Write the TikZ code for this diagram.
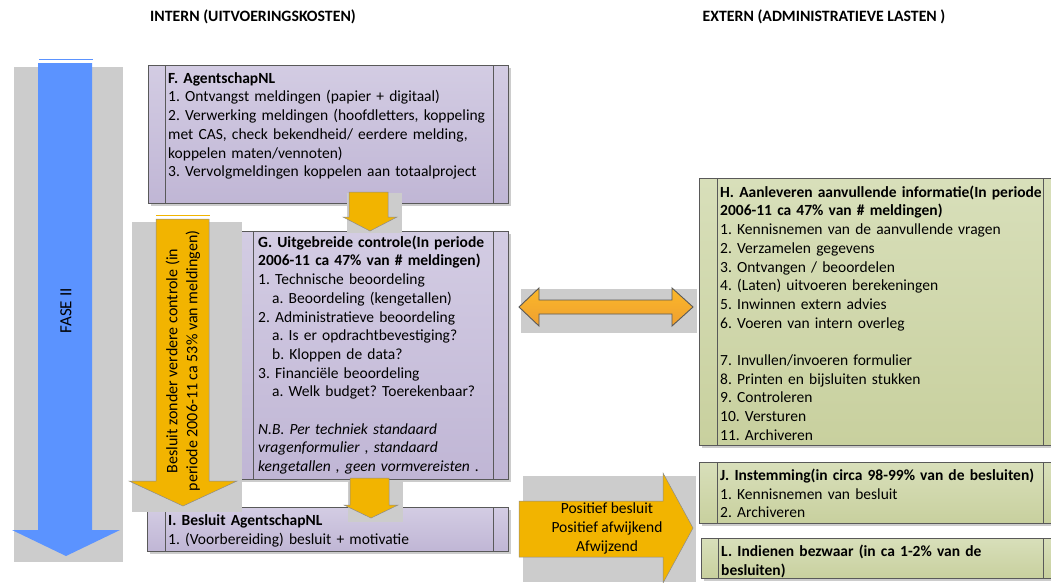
\documentclass[tikz,border=0pt]{standalone}
\usepackage{fontspec}
\setmainfont{Carlito}
\usetikzlibrary{positioning,shadows}
\definecolor{lavtop}{HTML}{D3CCE3}
\definecolor{lavbot}{HTML}{C0B6D5}
\definecolor{groentop}{HTML}{D8DFBA}
\definecolor{groenbot}{HTML}{C8D09E}
\definecolor{randgrijs}{HTML}{595959}
\definecolor{achtergrijs}{HTML}{CCCCCC}
\definecolor{fasblauw}{HTML}{5B93FF}
\definecolor{goud}{HTML}{F2B400}
\definecolor{oranjetop}{HTML}{FBB829}
\definecolor{oranjebot}{HTML}{EF9F30}
\tikzset{
  blok/.style={draw=randgrijs, line width=0.9pt, anchor=north west, inner sep=0pt,
    drop shadow={shadow xshift=2.5pt, shadow yshift=-2.5pt, fill=black!20, opacity=1}},
  paars/.style={blok, top color=lavtop, bottom color=lavbot},
  groen/.style={blok, top color=groentop, bottom color=groenbot},
  tekst/.style={anchor=north west, inner sep=0pt, align=left, text width=#1,
    font=\fontsize{15.5}{18.7}\selectfont\frenchspacing},
  kop/.style={font=\fontsize{15.8}{18}\selectfont\bfseries},
  pijl/.style={fill=goud, draw=black!45, line width=0.5pt}
}

\begin{document}
\begin{tikzpicture}[x=1pt, y=-1pt]
  \useasboundingbox (0,0) rectangle (1051,582);
  \clip (0,0) rectangle (1051,582);

  \node[kop] (intern) at (253,17) {INTERN (UITVOERINGSKOSTEN)};
  \node[kop] (extern) at (824,17) {EXTERN (ADMINISTRATIEVE LASTEN )};

  % fase pijl
  \fill[achtergrijs] (14,67) rectangle (123,562);
  \fill[fasblauw] (38,63) -- (92,63) -- (92,530) -- (120,530) -- (66,556) -- (12,530) -- (38,530) -- cycle;
  \draw[fasblauw, line width=1.5pt] (39,59.5) -- (93,59.5);
  \node[rotate=90, font=\fontsize{17}{20}\selectfont] (fase) at (66,311) {FASE II};

  % interne blokken
  \node[paars, minimum width=360pt, minimum height=138pt] (F) at (148,65) {};
  \draw[randgrijs] ([xshift=17pt]F.north west) -- ([xshift=17pt]F.south west);
  \draw[randgrijs] ([xshift=-16pt]F.north east) -- ([xshift=-16pt]F.south east);
  \node[tekst=380pt] (Ftekst) at (168,70) {\strut\textbf{F. AgentschapNL}\\
    1. Ontvangst meldingen (papier + digitaal)\\
    2. Verwerking meldingen (hoofdletters, koppeling\\
    met CAS, check bekendheid/ eerdere melding,\\
    koppelen maten/vennoten)\\
    3. Vervolgmeldingen koppelen aan totaalproject};

  \node[paars, minimum width=272pt, minimum height=248pt] (G) at (236,231) {};
  \draw[randgrijs] ([xshift=17pt]G.north west) -- ([xshift=17pt]G.south west);
  \draw[randgrijs] ([xshift=-16pt]G.north east) -- ([xshift=-16pt]G.south east);
  \node[tekst=300pt] (Gtekst) at (258,234) {\strut\textbf{G. Uitgebreide controle(In periode}\\
    \textbf{2006-11 ca 47\% van \# meldingen)}\\
    1. Technische beoordeling\\
    \hspace*{14pt}a. Beoordeling (kengetallen)\\
    2. Administratieve beoordeling\\
    \hspace*{14pt}a. Is er opdrachtbevestiging?\\
    \hspace*{14pt}b. Kloppen de data?\\
    3. Financiële beoordeling\\
    \hspace*{14pt}a. Welk budget? Toerekenbaar?\\[18.7pt]
    \textit{N.B. Per techniek standaard}\\
    \textit{vragenformulier , standaard}\\
    \textit{kengetallen , geen vormvereisten .}};

  \node[paars, minimum width=361pt, minimum height=44pt] (I) at (147,507) {};
  \draw[randgrijs] ([xshift=18pt]I.north west) -- ([xshift=18pt]I.south west);
  \draw[randgrijs] ([xshift=-16pt]I.north east) -- ([xshift=-16pt]I.south east);
  \node[tekst=360pt] (Itekst) at (168,512) {\strut\textbf{I. Besluit AgentschapNL}\\
    1. (Voorbereiding) besluit + motivatie};

  % externe blokken
  \node[groen, minimum width=360pt, minimum height=267pt] (H) at (699,178) {};
  \draw[randgrijs] ([xshift=18pt]H.north west) -- ([xshift=18pt]H.south west);
  \draw[randgrijs] ([xshift=-17pt]H.north east) -- ([xshift=-17pt]H.south east);
  \node[tekst=380pt] (Htekst) at (720,184) {\strut\textbf{H. Aanleveren aanvullende informatie(In periode}\\
    \textbf{2006-11 ca 47\% van \# meldingen)}\\
    1. Kennisnemen van de aanvullende vragen\\
    2. Verzamelen gegevens\\
    3. Ontvangen / beoordelen\\
    4. (Laten) uitvoeren berekeningen\\
    5. Inwinnen extern advies\\
    6. Voeren van intern overleg\\[18.7pt]
    7. Invullen/invoeren formulier\\
    8. Printen en bijsluiten stukken\\
    9. Controleren\\
    10. Versturen\\
    11. Archiveren};

  \node[groen, minimum width=360pt, minimum height=61pt] (J) at (699,462) {};
  \draw[randgrijs] ([xshift=18pt]J.north west) -- ([xshift=18pt]J.south west);
  \draw[randgrijs] ([xshift=-17pt]J.north east) -- ([xshift=-17pt]J.south east);
  \node[tekst=380pt] (Jtekst) at (720,467) {\strut\textbf{J. Instemming(in circa 98-99\% van de besluiten)}\\
    1. Kennisnemen van besluit\\
    2. Archiveren};

  \node[groen, minimum width=360pt, minimum height=40pt] (L) at (701,538) {};
  \draw[randgrijs] ([xshift=17pt]L.north west) -- ([xshift=17pt]L.south west);
  \draw[randgrijs] ([xshift=-19pt]L.north east) -- ([xshift=-19pt]L.south east);
  \node[tekst=380pt] (Ltekst) at (721,543) {\strut\textbf{L. Indienen bezwaar (in ca 1-2\% van de}\\
    \textbf{besluiten)}};

  % pijlen
  \fill[achtergrijs] (347,193) rectangle (402,233);
  \draw[pijl] (349,192) -- (388,192) -- (388,217) -- (397,217) -- (370,231) -- (343,217) -- (349,217) -- cycle;

  \fill[achtergrijs] (348,480) rectangle (403,522);
  \draw[pijl] (350,478) -- (389,478) -- (389,505) -- (398,505) -- (371,518) -- (344,505) -- (350,505) -- cycle;

  \fill[achtergrijs] (132,222) rectangle (242,512);
  \draw[pijl] (156,219) -- (209,219) -- (209,481) -- (237,481) -- (183,506) -- (129,481) -- (156,481) -- cycle;
  \draw[goud, line width=1.5pt] (156,215.5) -- (210,215.5);
  \node[rotate=90, align=center, font=\fontsize{16}{20}\selectfont] (zonder) at (183,361)
    {Besluit zonder verdere controle (in\\periode 2006-11 ca 53\% van meldingen)};

  \fill[achtergrijs] (521,289) rectangle (697,333);
  \draw[top color=oranjetop, bottom color=oranjebot, draw=randgrijs, line width=0.9pt]
    (519,307) -- (539,288) -- (539,300) -- (672,300) -- (672,288) -- (693,307)
    -- (672,326) -- (672,314) -- (539,314) -- (539,326) -- cycle;

  \fill[achtergrijs] (523,476) rectangle (696,582);
  \draw[pijl] (519,501) -- (663,501) -- (663,473) -- (693,528) -- (663,583) -- (663,557) -- (519,557) -- cycle;
  \node[align=center, font=\fontsize{15.5}{19}\selectfont] (uitkomst) at (607,528)
    {Positief besluit\\Positief afwijkend\\Afwijzend};
\end{tikzpicture}
\end{document}
